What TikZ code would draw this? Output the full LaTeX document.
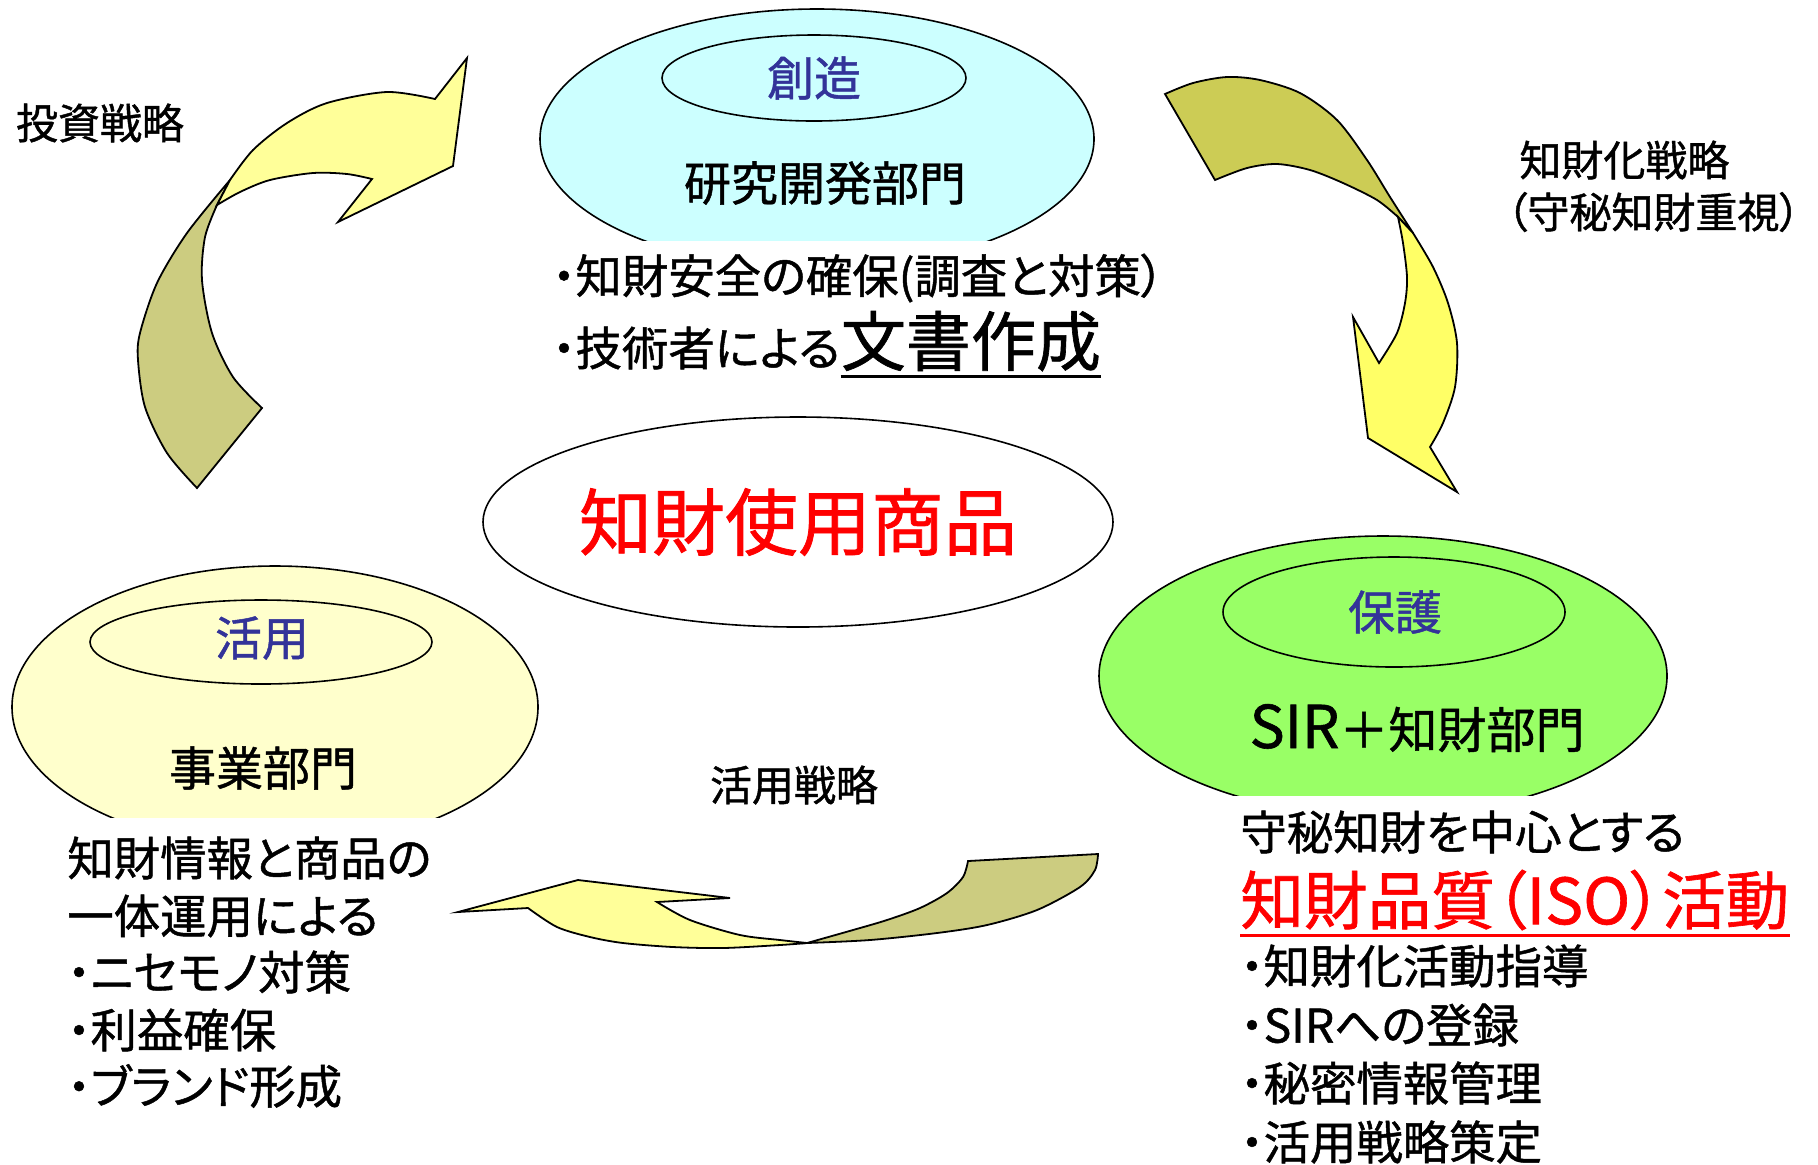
\documentclass[tikz,border=0pt]{standalone}
\usepackage{fontspec}
\setmainfont[RawFeature=+palt, FakeBold=1]{Noto Sans CJK JP}
\usetikzlibrary{shapes.geometric}

\definecolor{rdfill}{HTML}{CCFFFF}
\definecolor{bizfill}{HTML}{FFFFCC}
\definecolor{sirfill}{HTML}{99FF66}
\definecolor{phaseblue}{HTML}{333399}
\definecolor{paleyellow}{HTML}{FFFF99}
\definecolor{brightyellow}{HTML}{FFFF66}
\definecolor{paleolive}{HTML}{CCCC80}
\definecolor{darkolive}{HTML}{CCCC55}

\begin{document}
\begin{tikzpicture}[x=0.5pt,y=-0.5pt,
    oval/.style={ellipse, draw, line width=0.8pt, inner sep=0pt, outer sep=0pt},
    phase/.style={inner sep=0pt, text=phaseblue, font=\fontsize{23.5}{26}\selectfont},
    dept/.style={inner sep=0pt, font=\fontsize{23.5}{26}\selectfont},
    body/.style={inner sep=0pt, anchor=west, font=\fontsize{23.2}{26}\selectfont},
    strategy/.style={inner sep=0pt, font=\fontsize{21}{24}\selectfont},
    band/.style={draw, line width=0.9pt, line join=miter}]
  \useasboundingbox (0,0) rectangle (1818,1164);

  % departments
  \begin{scope}
    \clip (500,0) rectangle (1130,240);
    \node[oval, fill=rdfill, minimum width=554pt/2, minimum height=260pt/2] (rdouter) at (817,139) {};
    \node[oval, minimum width=304pt/2, minimum height=86pt/2] (rdinner) at (814,78) {};
  \end{scope}
  \node[phase] (sozo) at (rdinner) {創造};
  \node[dept] (rd) at (825,183) {研究開発部門};

  \begin{scope}
    \clip (0,540) rectangle (560,817);
    \node[oval, fill=bizfill, minimum width=526pt/2, minimum height=282pt/2] (bizouter) at (275,707) {};
    \node[oval, minimum width=342pt/2, minimum height=84pt/2] (bizinner) at (261,642) {};
  \end{scope}
  \node[phase] (katsuyo) at (262,638) {活用};
  \node[dept] (biz) at (263,768) {事業部門};

  \begin{scope}
    \clip (1080,520) rectangle (1700,795);
    \node[oval, fill=sirfill, minimum width=568pt/2, minimum height=280pt/2] (sirouter) at (1383,676) {};
    \node[oval, minimum width=342pt/2, minimum height=110pt/2] (sirinner) at (1394,612) {};
  \end{scope}
  \node[phase] (hogo) at (1395,612) {保護};
  \node[dept, font=\fontsize{24.5}{27}\selectfont] (sir) at (1417,728) {{\fontsize{29.5}{30}\selectfont SIR}＋知財部門};

  % product in the middle
  \node[oval, minimum width=630pt/2, minimum height=210pt/2] (product) at (798,522) {};
  \node[inner sep=0pt, text=red, font=\fontsize{36.5}{40}\selectfont] (productname) at (product) {知財使用商品};

  % research texts
  \node[body] (rdsafe) at (552,278) {・知財安全の確保(調査と対策）};
  \node[body] (rdwriter) at (552,348) {・技術者による};
  \node[inner sep=0pt, anchor=base west, font=\fontsize{32.5}{34}\selectfont] (rddocs) at (rdwriter.base east) {文書作成};
  \draw[line width=1.4pt] ([yshift=-2.5pt]rddocs.south west) -- ([yshift=-2.5pt]rddocs.south east);

  % protection texts
  \node[body] (sirsecret) at (1240,832) {守秘知財を中心とする};
  \node[body, text=red, font=\fontsize{31.8}{34}\selectfont] (siriso) at (1240,900) {知財品質（ISO）活動};
  \draw[red, line width=1.4pt] ([yshift=-2.5pt]siriso.south west) -- ([yshift=-2.5pt]siriso.south east);
  \node[body] (sirguide) at (1240,966) {・知財化活動指導};
  \node[body] (sirreg) at (1240,1025) {・SIRへの登録};
  \node[body] (sirinfo) at (1240,1083) {・秘密情報管理};
  \node[body] (sirplan) at (1240,1142) {・活用戦略策定};

  % business texts
  \node[body] (bizinfo) at (67,858) {知財情報と商品の};
  \node[body] (bizjoint) at (67,916) {一体運用による};
  \node[body] (bizfake) at (67,972) {・ニセモノ対策};
  \node[body] (bizprofit) at (67,1030) {・利益確保};
  \node[body] (bizbrand) at (67,1086) {・ブランド形成};

  % strategies
  \node[strategy] (invest) at (100,123) {投資戦略};
  \node[strategy, anchor=west] (ipstrat) at (1519,160) {知財化戦略};
  \node[strategy, anchor=west] (ipsecret) at (1506,212) {（守秘知財重視）};
  \node[strategy] (usestrat) at (794,785) {活用戦略};

  % arrow: business -> research
  \draw[band, fill=paleolive] plot[smooth] coordinates {(197,488) (167,453) (145,407) (138,360) (140,333) (157,283) (187,233) (230,180)}
    -- plot[smooth] coordinates {(217,205) (205,237) (202,280) (212,333) (233,377) (262,408)} -- cycle;
  \draw[band, fill=paleyellow] plot[smooth] coordinates {(230,180) (253,150) (287,123) (327,103) (387,92) (435,99)}
    -- (467,58) -- (453,166) -- (338,222) -- (372,179)
    -- plot[smooth] coordinates {(372,179) (347,174) (313,173) (270,180) (240,192) (217,205)} -- cycle;

  % arrow: research -> protection
  \draw[band, fill=darkolive] plot[smooth] coordinates {(1165,94) (1193,83) (1227,77) (1260,80) (1300,93) (1337,120) (1367,160) (1390,197) (1413,233)}
    -- plot[smooth] coordinates {(1398,217) (1377,200) (1343,183) (1310,170) (1277,164) (1247,168) (1215,180)} -- cycle;
  \draw[band, fill=brightyellow] plot[smooth] coordinates {(1413,233) (1433,267) (1448,303) (1457,343) (1455,387) (1443,423) (1430,447)}
    -- (1457,492) -- (1368,438) -- (1353,317) -- (1379,363)
    -- plot[smooth] coordinates {(1379,363) (1397,333) (1405,303) (1407,277) (1403,243) (1398,217)} -- cycle;

  % arrow: protection -> business
  \draw[band, fill=paleolive] plot[smooth] coordinates {(807,943) (853,930) (887,920) (920,908) (947,893) (963,877) (968,861)}
    -- (1098,854)
    -- plot[smooth] coordinates {(1098,854) (1095,870) (1080,887) (1037,910) (987,925) (937,933) (870,940) (807,943)} -- cycle;
  \draw[band, fill=paleyellow] (458,912) -- (578,880) -- (730,898) -- (657,902)
    -- plot[smooth] coordinates {(657,902) (690,920) (740,935) (780,940) (807,943)}
    -- plot[smooth] coordinates {(807,943) (780,945) (723,948) (673,947) (623,943) (590,937) (557,927) (528,908)} -- cycle;
\end{tikzpicture}
\end{document}
